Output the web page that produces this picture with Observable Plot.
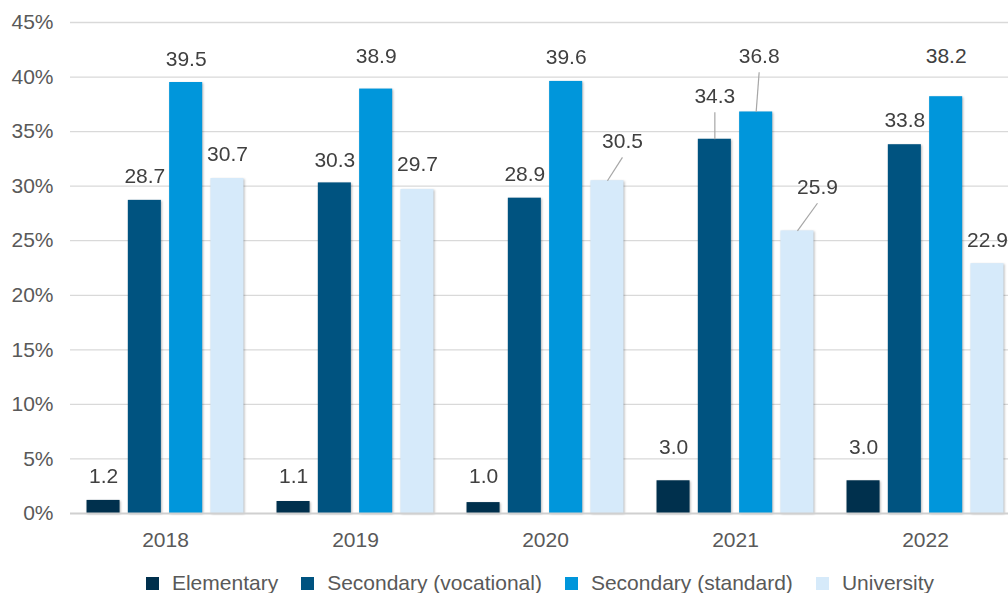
<!DOCTYPE html>
<html>
<head>
<meta charset="utf-8">
<script src="https://cdn.jsdelivr.net/npm/d3@7"></script>
<script src="https://cdn.jsdelivr.net/npm/@observablehq/plot@0.6"></script>
<style>
  html, body { margin: 0; padding: 0; background: #fff; }
  #chart { width: 1008px; }
  .legend {
    display: flex; justify-content: center; align-items: center;
    padding-left: 72px; margin-top: 13px; height: 20px;
    font-family: "Liberation Sans", Arial, sans-serif; font-size: 21px; color: #595959;
  }
  .legend .item { display: flex; align-items: center; margin-right: 23px; }
  .legend .item:last-child { margin-right: 0; }
  .legend .sw { width: 13px; height: 13px; margin-right: 13px; }
</style>
</head>
<body>
<div id="chart"></div>
<script>
// ---- data ----
const years = ["2018", "2019", "2020", "2021", "2022"];
const categories = ["Elementary", "Secondary (vocational)", "Secondary (standard)", "University"];
const elementary = [1.2, 1.1, 1.0, 3.0, 3.0];
const vocational = [28.7, 30.3, 28.9, 34.3, 33.8];
const standard   = [39.5, 38.9, 39.6, 36.8, 38.2];
const university = [30.7, 29.7, 30.5, 25.9, 22.9];
const yTicks = [0, 5, 10, 15, 20, 25, 30, 35, 40, 45];
const colors = ["#00304d", "#005380", "#0096db", "#d6eafa"];

// ---- label placement (value-axis units, pixel x-shift, leader line) ----
const labelAtElementary = [3.42, 3.42, 3.42, 6.08, 6.08];
const labelAtVocational = [30.9, 32.4, 31.1, 38.25, 36.0];
const labelAtStandard   = [41.6, 41.9, 41.8, 41.9, 41.9];
const labelAtUniversity = [32.9, 32.0, 34.1, 29.9, 25.05];
const labelDxUniversity = [0, 0, 15, 20, 0];
const labelDxStandard   = [0, 0, 0, 3, 0];
const leaderVocational  = [false, false, false, true, false];
const leaderStandard    = [false, false, false, true, false];
const leaderUniversity  = [false, false, true, true, false];

const series = [elementary, vocational, standard, university];
const labelAt = [labelAtElementary, labelAtVocational, labelAtStandard, labelAtUniversity];
const labelDx = [[0,0,0,0,0], [0,0,0,0,0], labelDxStandard, labelDxUniversity];
const leader = [[false,false,false,false,false], leaderVocational, leaderStandard, leaderUniversity];

const rows = years.flatMap((year, j) => categories.map((category, i) => ({
  year, category, value: series[i][j], labelY: labelAt[i][j], dx: labelDx[i][j], leader: leader[i][j]
})));

// curve that shifts the end point of a link (leader line end below the label)
function endShift(dx, dy) {
  return (context) => {
    let n = 0;
    return {
      areaStart() {}, areaEnd() {},
      lineStart() { n = 0; },
      lineEnd() {},
      point(x, y) {
        if (n++ === 0) context.moveTo(x, y);
        else context.lineTo(x + dx, y + dy);
      }
    };
  };
}

const dxValues = Array.from(new Set(rows.map(d => d.dx)));
const font = "'Liberation Sans', Arial, sans-serif";

const marks = [
  Plot.ruleY(yTicks.filter(t => t > 0), {y: d => d, stroke: "#d9d9d9", strokeWidth: 1.3}),
  Plot.barY(rows, {x: "category", y: "value", fill: "category"}),
  Plot.ruleY([0], {stroke: "#d0d0d0", strokeWidth: 2})
];
for (const dx of dxValues) {
  marks.push(Plot.link(rows, {
    filter: d => d.leader && d.dx === dx,
    x1: "category", x2: "category", y1: "value", y2: "labelY",
    stroke: "#a6a6a6", strokeWidth: 1.2, curve: endShift(dx, 16)
  }));
  marks.push(Plot.text(rows, {
    filter: d => d.dx === dx,
    x: "category", y: "labelY", text: d => d.value.toFixed(1),
    dx, fill: "#404040", fontSize: 21, lineAnchor: "middle", textAnchor: "middle"
  }));
}

const plot = Plot.plot({
  width: 1008,
  height: 560,
  marginLeft: 70,
  marginRight: -12,
  marginTop: 22,
  marginBottom: 47,
  style: {fontFamily: font, fontSize: "21px", color: "#595959", background: "#fff", overflow: "hidden"},
  facet: {data: rows, x: "year"},
  fx: {domain: years, padding: 0, round: false, label: null, axis: "bottom", tickSize: 0, tickPadding: 19},
  x: {domain: categories, paddingInner: 0.2, paddingOuter: 0.4, round: false, axis: null},
  y: {domain: [0, 45], ticks: yTicks, tickFormat: d => d + "%", tickSize: 0, tickPadding: 17, label: null},
  color: {domain: categories, range: colors},
  marks
});

// subtle bar shadow
plot.querySelectorAll('g[aria-label="bar"]').forEach(g => {
  g.style.filter = "drop-shadow(1.5px 1px 1.2px rgba(0,0,0,0.28))";
});

const chart = document.getElementById("chart");
chart.appendChild(plot);

const legend = document.createElement("div");
legend.className = "legend";
categories.forEach((c, i) => {
  const item = document.createElement("div");
  item.className = "item";
  const sw = document.createElement("span");
  sw.className = "sw";
  sw.style.background = colors[i];
  const lab = document.createElement("span");
  lab.textContent = c;
  item.appendChild(sw);
  item.appendChild(lab);
  legend.appendChild(item);
});
chart.appendChild(legend);
</script>
</body>
</html>
